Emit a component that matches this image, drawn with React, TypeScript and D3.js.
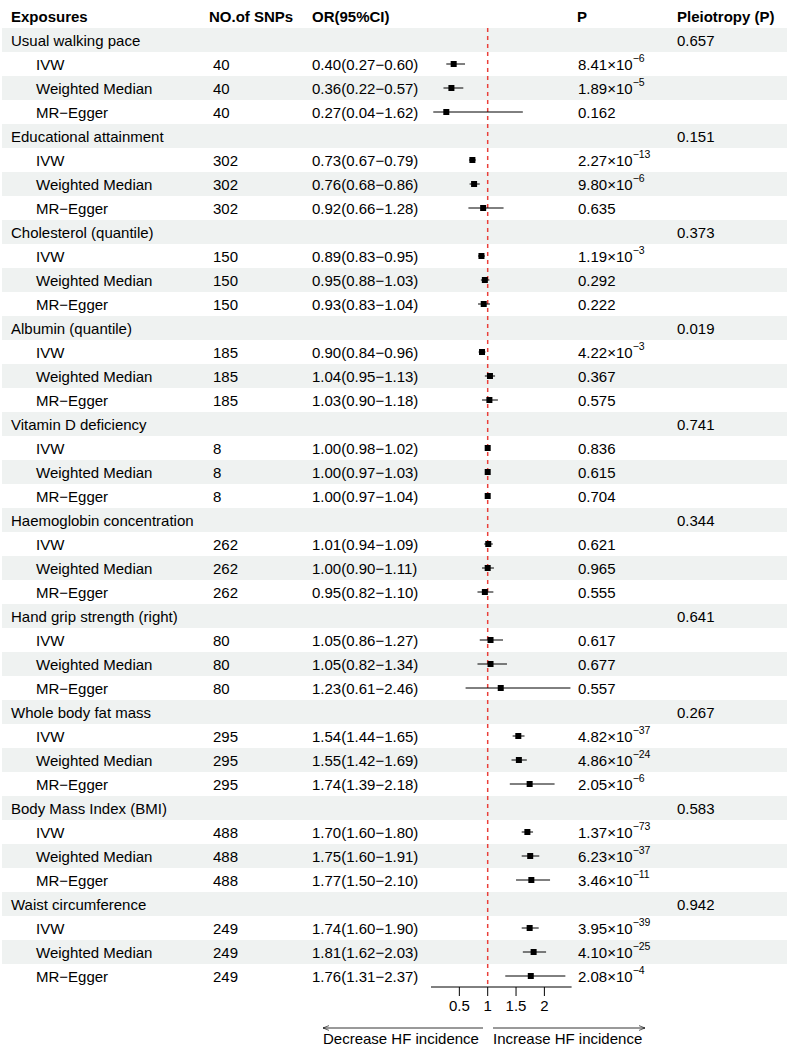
import React from 'react';
import * as d3 from 'd3';

const exposures = [
  'Usual walking pace', 'Educational attainment', 'Cholesterol (quantile)', 'Albumin (quantile)',
  'Vitamin D deficiency', 'Haemoglobin concentration', 'Hand grip strength (right)',
  'Whole body fat mass', 'Body Mass Index (BMI)', 'Waist circumference'
];
const pleiotropy = ['0.657', '0.151', '0.373', '0.019', '0.741', '0.344', '0.641', '0.267', '0.583', '0.942'];
const snps = [40, 302, 150, 185, 8, 262, 80, 295, 488, 249];
const methods = ['IVW', 'Weighted Median', 'MR\u2212Egger'];

// [OR, lower, upper] for IVW, Weighted Median, MR-Egger
const orValues = [
  [[0.40, 0.27, 0.60], [0.36, 0.22, 0.57], [0.27, 0.04, 1.62]],
  [[0.73, 0.67, 0.79], [0.76, 0.68, 0.86], [0.92, 0.66, 1.28]],
  [[0.89, 0.83, 0.95], [0.95, 0.88, 1.03], [0.93, 0.83, 1.04]],
  [[0.90, 0.84, 0.96], [1.04, 0.95, 1.13], [1.03, 0.90, 1.18]],
  [[1.00, 0.98, 1.02], [1.00, 0.97, 1.03], [1.00, 0.97, 1.04]],
  [[1.01, 0.94, 1.09], [1.00, 0.90, 1.11], [0.95, 0.82, 1.10]],
  [[1.05, 0.86, 1.27], [1.05, 0.82, 1.34], [1.23, 0.61, 2.46]],
  [[1.54, 1.44, 1.65], [1.55, 1.42, 1.69], [1.74, 1.39, 2.18]],
  [[1.70, 1.60, 1.80], [1.75, 1.60, 1.91], [1.77, 1.50, 2.10]],
  [[1.74, 1.60, 1.90], [1.81, 1.62, 2.03], [1.76, 1.31, 2.37]]
];

// P values: [mantissa, exponent] (exponent null = plain number)
const pValues: [string, number | null][][] = [
  [['8.41', -6], ['1.89', -5], ['0.162', null]],
  [['2.27', -13], ['9.80', -6], ['0.635', null]],
  [['1.19', -3], ['0.292', null], ['0.222', null]],
  [['4.22', -3], ['0.367', null], ['0.575', null]],
  [['0.836', null], ['0.615', null], ['0.704', null]],
  [['0.621', null], ['0.965', null], ['0.555', null]],
  [['0.617', null], ['0.677', null], ['0.557', null]],
  [['4.82', -37], ['4.86', -24], ['2.05', -6]],
  [['1.37', -73], ['6.23', -37], ['3.46', -11]],
  [['3.95', -39], ['4.10', -25], ['2.08', -4]]
];

const axisTicks = [0.5, 1, 1.5, 2];

const W = 787;
const H = 1047;
const rowH = 24;
const top = 28;
const font = '"Liberation Sans", Arial, sans-serif';
const fs = 15;

const fmt = (v: number) => v.toFixed(2);

export default function App() {
  const x = d3.scaleLinear().domain([0, 2.48]).range([431, 571.6]);

  type Row = { kind: 'group' | 'method'; g: number; m: number };
  const rows: Row[] = [];
  exposures.forEach((_, g) => {
    rows.push({ kind: 'group', g, m: -1 });
    methods.forEach((_, m) => rows.push({ kind: 'method', g, m }));
  });
  const y = d3.scaleBand<number>().domain(d3.range(rows.length)).range([top, top + rows.length * rowH]);
  const bottom = top + rows.length * rowH;
  const cy = (i: number) => (y(i) as number) + rowH / 2;

  const txt = { fontFamily: font, fontSize: fs, fill: '#000' } as const;

  return (
    <svg width={W} height={H} style={{ position: 'absolute', left: 0, top: 0, background: '#fff' }}>
      {/* row shading */}
      {rows.map((_, i) =>
        i % 2 === 0 ? <rect key={'bg' + i} x={2} y={y(i)} width={W - 2} height={rowH} fill="#eff2f1" /> : null
      )}

      {/* header */}
      <g style={{ ...txt, fontWeight: 'bold' }}>
        <text x={11} y={16} dominantBaseline="central">Exposures</text>
        <text x={209} y={16} dominantBaseline="central">NO.of SNPs</text>
        <text x={312} y={16} dominantBaseline="central">OR(95%CI)</text>
        <text x={577} y={16} dominantBaseline="central">P</text>
        <text x={677} y={16} dominantBaseline="central">Pleiotropy (P)</text>
      </g>

      {/* table text */}
      {rows.map((r, i) => {
        if (r.kind === 'group') {
          return (
            <g key={'r' + i} style={txt}>
              <text x={11} y={cy(i)} dominantBaseline="central">{exposures[r.g]}</text>
              <text x={677} y={cy(i)} dominantBaseline="central">{pleiotropy[r.g]}</text>
            </g>
          );
        }
        const [o, lo, hi] = orValues[r.g][r.m];
        const [mant, ex] = pValues[r.g][r.m];
        return (
          <g key={'r' + i} style={txt}>
            <text x={36} y={cy(i)} dominantBaseline="central">{methods[r.m]}</text>
            <text x={213} y={cy(i)} dominantBaseline="central">{snps[r.g]}</text>
            <text x={312} y={cy(i)} dominantBaseline="central">{`${fmt(o)}(${fmt(lo)}\u2212${fmt(hi)})`}</text>
            <text x={578} y={cy(i)} dominantBaseline="central">
              {ex === null ? mant : (
                <>
                  {mant + '\u00d710'}
                  <tspan dy={-6} fontSize={10.5}>{'\u2212' + Math.abs(ex)}</tspan>
                </>
              )}
            </text>
          </g>
        );
      })}

      {/* reference line */}
      <line x1={x(1)} x2={x(1)} y1={top} y2={bottom} stroke="#ea3f3a" strokeWidth={1.5} strokeDasharray="4,4" />

      {/* forest marks */}
      {rows.map((r, i) => {
        if (r.kind !== 'method') return null;
        const [o, lo, hi] = orValues[r.g][r.m];
        return (
          <g key={'m' + i}>
            <line x1={x(lo)} x2={x(hi)} y1={cy(i)} y2={cy(i)} stroke="#000" strokeWidth={1} />
            <rect x={x(o) - 3} y={cy(i) - 3} width={6} height={6} fill="#000" />
          </g>
        );
      })}

      {/* x axis */}
      <line x1={x.range()[0]} x2={x.range()[1]} y1={bottom - 1} y2={bottom - 1} stroke="#000" strokeWidth={1} />
      {axisTicks.map(t => (
        <g key={'t' + t}>
          <line x1={x(t)} x2={x(t)} y1={bottom - 1} y2={bottom + 8} stroke="#000" strokeWidth={1} />
          <text x={x(t)} y={bottom + 17} textAnchor="middle" dominantBaseline="central" style={txt}>{t}</text>
        </g>
      ))}

      {/* direction arrows */}
      <defs>
        <marker id="arr" viewBox="0 0 10 10" refX="10" refY="5" markerWidth="8" markerHeight="8" orient="auto-start-reverse">
          <path d="M0,1 L10,5 L0,9" fill="none" stroke="#000" strokeWidth={1} />
        </marker>
      </defs>
      <line x1={323} x2={483} y1={1028} y2={1028} stroke="#000" strokeWidth={0.8} markerStart="url(#arr)" />
      <line x1={493} x2={645} y1={1028} y2={1028} stroke="#000" strokeWidth={0.8} markerEnd="url(#arr)" />
      <text x={323} y={1038} dominantBaseline="central" style={txt}>Decrease HF incidence</text>
      <text x={493} y={1038} dominantBaseline="central" style={txt}>Increase HF incidence</text>
    </svg>
  );
}
